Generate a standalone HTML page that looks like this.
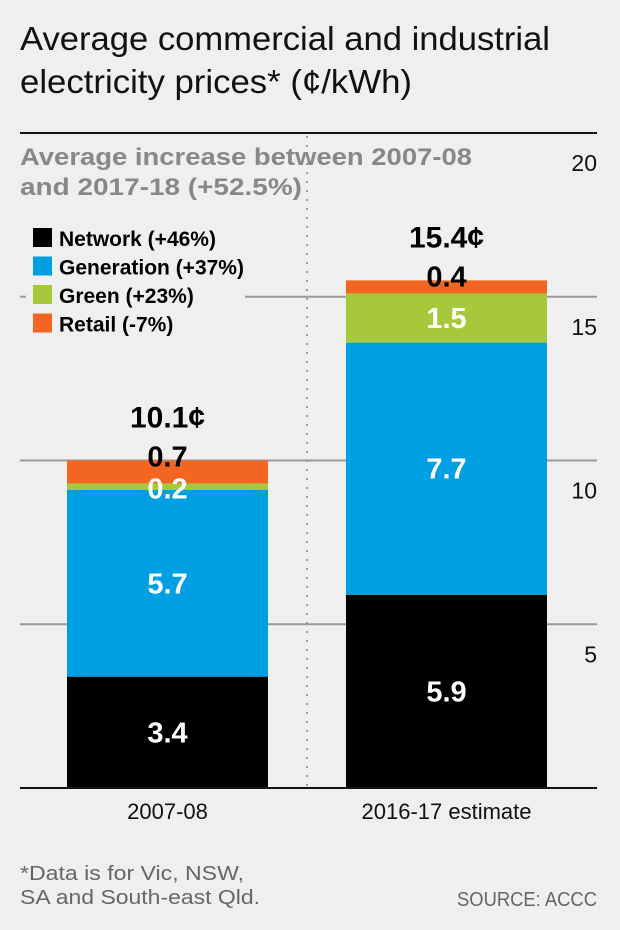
<!DOCTYPE html>
<html><head><meta charset="utf-8"><style>
html,body{margin:0;padding:0;background:#eeefee;}
svg{display:block;font-family:"Liberation Sans",sans-serif;}
</style></head><body>
<svg width="620" height="930" viewBox="0 0 620 930">
<rect x="0" y="0" width="620" height="930" fill="#eeefee"/>
<text x="20" y="50" font-size="33" fill="#111" textLength="530" lengthAdjust="spacingAndGlyphs">Average commercial and industrial</text>
<text x="20" y="93" font-size="33" fill="#111" textLength="392" lengthAdjust="spacingAndGlyphs">electricity prices* (¢/kWh)</text>
<g id="grid"></g>
<g id="bars"></g>
<rect x="26" y="142" width="219" height="195" fill="#eeefee"/>
<line x1="307" y1="136" x2="307" y2="788" stroke="#999" stroke-width="2" stroke-dasharray="2,7"/>
<text x="20" y="165" font-size="24" font-weight="bold" fill="#888" textLength="452" lengthAdjust="spacingAndGlyphs">Average increase between 2007-08</text>
<text x="20" y="195" font-size="24" font-weight="bold" fill="#888" textLength="282" lengthAdjust="spacingAndGlyphs">and 2017-18 (+52.5%)</text>
<g id="legend"></g>
<g id="labels"></g>
<text x="20" y="880" font-size="20" fill="#666" textLength="224" lengthAdjust="spacingAndGlyphs">*Data is for Vic, NSW,</text>
<text x="20" y="904" font-size="20" fill="#666" textLength="240" lengthAdjust="spacingAndGlyphs">SA and South-east Qld.</text>
<text x="597" y="906" font-size="20" fill="#666" text-anchor="end" textLength="140" lengthAdjust="spacingAndGlyphs">SOURCE: ACCC</text>
</svg>
<script>
const categories = ["2007-08", "2016-17 estimate"];
const seriesNames = ["Network (+46%)", "Generation (+37%)", "Green (+23%)", "Retail (-7%)"];
const network = [3.4, 5.9];
const generation = [5.7, 7.7];
const green = [0.2, 1.5];
const retail = [0.7, 0.4];
const totals = ["10.1¢", "15.4¢"];
const ticks = [5, 10, 15, 20];

const NS = "http://www.w3.org/2000/svg";
const colors = ["#000000", "#009fe3", "#a5c93a", "#f26522"];
const y0 = 788, pxPerUnit = 32.75;
function yScale(v){ return y0 - v * pxPerUnit; }
const barX = [67, 346], barW = [201, 201];
function mk(tag, attrs, parent){ const e = document.createElementNS(NS, tag); for (const k in attrs) e.setAttribute(k, attrs[k]); parent.appendChild(e); return e; }

const grid = document.getElementById('grid');
ticks.forEach(t => {
  const y = yScale(t);
  const gl = mk('line', {x1:20, x2:597, y1:y, y2:y, stroke: t===20 ? '#111' : '#999', 'stroke-width': 2}, grid);
  
  
  const tl = mk('text', {x:597, y:y+38, 'font-size':23, fill:'#111', 'text-anchor':'end'}, grid);
  tl.textContent = t;
  
  
});

const bars = document.getElementById('bars');
const labels = document.getElementById('labels');
const series = [network, generation, green, retail];
categories.forEach((c, i) => {
  let base = 0;
  series.forEach((s, j) => {
    const v = s[i];
    const r = mk('rect', {x:barX[i], y:yScale(base+v), width:barW[i], height:v*pxPerUnit, fill:colors[j]}, bars);
    
    
    base += v;
  });
  const cx = barX[i] + barW[i]/2;
  let b = 0;
  series.forEach((s, j) => {
    const v = s[i];
    let ty;
    if (j === 3) ty = yScale(b+v) + 6;
    else if (j === 2 && v < 1) ty = yScale(b+v) + 15;
    else ty = yScale(b + v/2) + 10;
    const t = mk('text', {x:cx, y:ty, 'font-size':29, 'font-weight':'bold', fill: j===3 ? '#000' : '#fff', 'text-anchor':'middle'}, labels);
    t.textContent = v.toFixed(1);
    
    
    b += v;
  });
  const tt = mk('text', {x:cx, y:yScale(b) - 33, 'font-size':30, 'font-weight':'bold', fill:'#000', 'text-anchor':'middle'}, labels);
  tt.textContent = totals[i];
  
  
  const xl = mk('text', {x:cx, y:819, 'font-size':22, fill:'#111', 'text-anchor':'middle'}, labels);
  xl.textContent = c;
  
  
});
const axis = mk('line', {x1:20, x2:597, y1:y0, y2:y0, stroke:'#111', 'stroke-width':2}, bars);



const legend = document.getElementById('legend');
seriesNames.forEach((n, j) => {
  const y = 228 + j*28.5;
  const sq = mk('rect', {x:33, y:y, width:19, height:19, fill:colors[j]}, legend);
  
  
  const t = mk('text', {x:59, y:y+18, 'font-size':21, 'font-weight':'bold', fill:'#000'}, legend);
  t.textContent = n;
  
  
});
</script>
</body></html>
